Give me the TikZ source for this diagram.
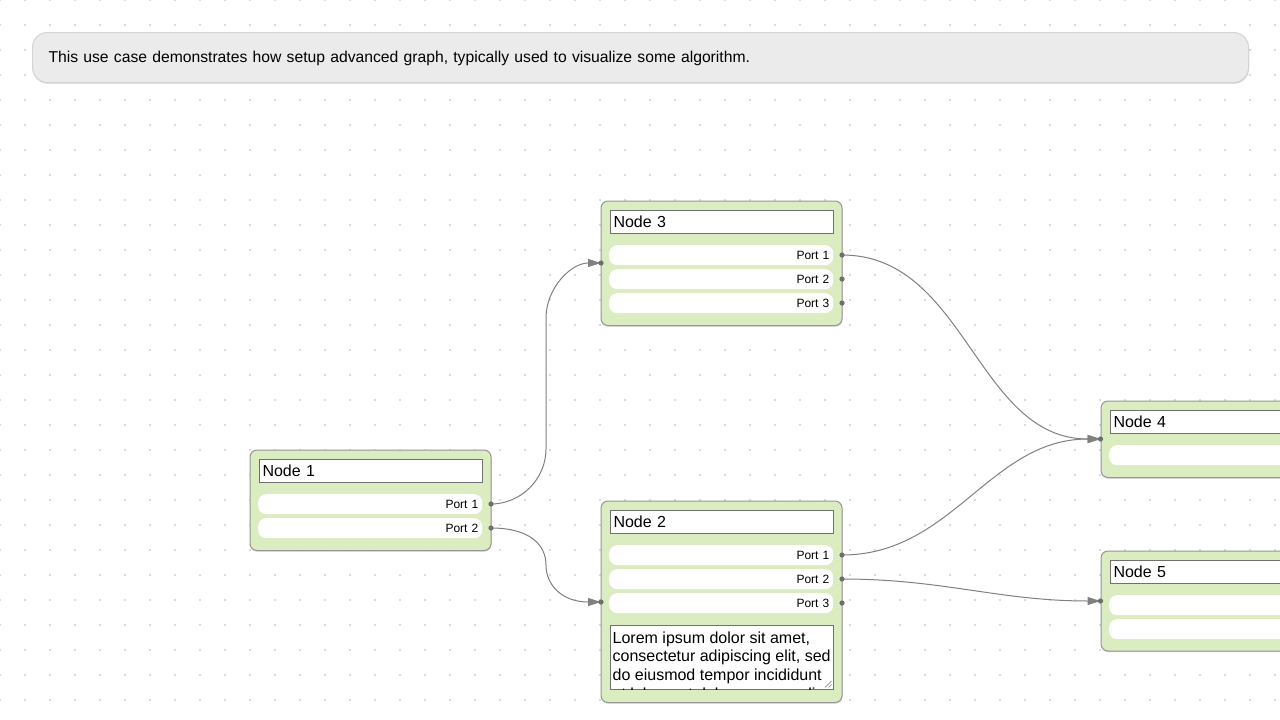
\documentclass[tikz,border=0pt]{standalone}
\usepackage{fontspec}
\setmainfont{Liberation Sans}
\usetikzlibrary{arrows.meta,calc,shadows}
\definecolor{nodegreen}{RGB}{218,236,192}
\definecolor{nodeborder}{RGB}{150,150,150}
\definecolor{titleborder}{RGB}{112,112,112}
\definecolor{edgec}{RGB}{128,128,128}
\definecolor{portc}{RGB}{110,110,110}
\definecolor{griddot}{RGB}{208,208,208}
\definecolor{headerfill}{RGB}{235,235,235}
\definecolor{headerborder}{RGB}{212,212,212}
\begin{document}
\begin{tikzpicture}[x=1pt,y=-1pt,
  softshadow/.style={drop shadow={shadow xshift=0.5pt,shadow yshift=-1.2pt,opacity=0.18,fill=black}},
  headerbox/.style={draw=headerborder,fill=headerfill,line width=1pt,rounded corners=15pt,
    anchor=north west,minimum width=1216pt,minimum height=50pt,text width=1184pt,
    inner xsep=16pt,inner ysep=0pt,align=left,font=\fontsize{15.7}{19}\selectfont,
    text depth=1.5pt,softshadow},
  nodebox/.style={draw=nodeborder,fill=nodegreen,line width=1pt,rounded corners=7pt,
    anchor=north west,minimum width=241pt,inner sep=0pt,softshadow},
  titlebox/.style={draw=titleborder,fill=white,line width=1pt,anchor=north west,
    minimum height=23.5pt,text width=216pt,inner xsep=3.5pt,inner ysep=0pt,align=left,
    font=\fontsize{16}{19}\selectfont},
  pill/.style={fill=white,rounded corners=8pt,anchor=north west,minimum height=20pt,
    text width=216pt,inner xsep=4pt,inner ysep=0pt,align=right,font=\fontsize{12}{14}\selectfont},
  textareabox/.style={draw=titleborder,fill=white,line width=1pt,anchor=north west,
    minimum width=223.5pt,minimum height=63.5pt,inner sep=0pt},
  edge/.style={draw=edgec,line width=1pt,-{Triangle[length=13pt,width=8pt]}},
  portdot/.style={fill=portc}
]
\useasboundingbox (0,0) rectangle (1280,720);
\clip (0,0) rectangle (1280,720);
\fill[white] (0,0) rectangle (1280,720);
% dotted grid
\foreach \i in {0,...,51}{
  \foreach \j in {0,...,28}{
    \fill[griddot] (25*\i,25*\j) circle (1.1);
  }
}
% header
\node[headerbox] (header) at (32,32)
  {This use case demonstrates how setup advanced graph, typically used to visualize some algorithm.};

% Node 1
\node[nodebox,minimum height=100.5pt] (n1) at (249.5,449.5) {};
\node[titlebox] (n1t) at (258.5,458.5) {Node 1};
\node[pill] (n1r1) at (258,494) {Port 1};
\node[pill] (n1r2) at (258,518) {Port 2};

% Node 3
\node[nodebox,minimum height=124.5pt] (n3) at (600.5,200.5) {};
\node[titlebox] (n3t) at (609.5,209.5) {Node 3};
\node[pill] (n3r1) at (609,245) {Port 1};
\node[pill] (n3r2) at (609,269) {Port 2};
\node[pill] (n3r3) at (609,293) {Port 3};

% Node 2
\node[nodebox,minimum height=201.5pt] (n2) at (600.5,500.5) {};
\node[titlebox] (n2t) at (609.5,509.5) {Node 2};
\node[pill] (n2r1) at (609,545) {Port 1};
\node[pill] (n2r2) at (609,569) {Port 2};
\node[pill] (n2r3) at (609,593) {Port 3};
\node[textareabox] (n2ta) at (609.5,625) {};
\begin{scope}
  \clip ($(n2ta.north west)+(0.5,0.5)$) rectangle ($(n2ta.south east)+(-0.5,-0.5)$);
  \node[anchor=north west,inner sep=0pt,align=left,font=\fontsize{16}{18.8}\selectfont]
    (n2text) at (612.5,631.3)
    {Lorem ipsum dolor sit amet,\\consectetur adipiscing elit, sed\\do eiusmod tempor incididunt\\ut labore et dolore magna aliqua.};
\end{scope}
\draw[titleborder,line width=0.6pt] (825,687.5) -- (831.5,681) (828.5,687.5) -- (831.5,684.5);

% Node 4
\node[nodebox,minimum height=76.5pt] (n4) at (1100.5,400.5) {};
\node[titlebox] (n4t) at (1109.5,409.5) {Node 4};
\node[pill] (n4r1) at (1109,445) {};

% Node 5
\node[nodebox,minimum height=100pt] (n5) at (1100.5,550.5) {};
\node[titlebox] (n5t) at (1109.5,559.5) {Node 5};
\node[pill] (n5r1) at (1109,595) {};
\node[pill] (n5r2) at (1109,619) {};

% port coordinates
\coordinate (n1o1) at (491,504);
\coordinate (n1o2) at (491,528);
\coordinate (n3i)  at (601,263);
\coordinate (n3o1) at (842,255);
\coordinate (n3o2) at (842,279);
\coordinate (n3o3) at (842,303);
\coordinate (n2i)  at (601,602);
\coordinate (n2o1) at (842,555);
\coordinate (n2o2) at (842,579);
\coordinate (n2o3) at (842,603);
\coordinate (n4i)  at (1100.5,439);
\coordinate (n5i)  at (1100.5,601);

% connectors
\draw[edge] (n1o1) .. controls +(30,0) and +(0,30) .. ($(n1o1)+(55,-55)$)
  -- ($(n3i)+(-55,55)$) .. controls +(0,-30) and +(-30,0) .. (n3i);
\draw[edge] (n1o2) .. controls +(39,0) and +(0,-20) .. ($(n1o2)!0.5!(n2i)$)
  .. controls +(0,20) and +(-39,0) .. (n2i);
\draw[edge] (n3o1) to[out=0,in=180] (n4i);
\draw[edge] (n2o1) to[out=0,in=180] (n4i);
\draw[edge] (n2o2) to[out=0,in=180] (n5i);

% port dots
\foreach \p in {n1o1,n1o2,n3i,n3o1,n3o2,n3o3,n2i,n2o1,n2o2,n2o3,n4i,n5i}{
  \fill[portdot] (\p) circle (2.6);
}
\end{tikzpicture}
\end{document}
